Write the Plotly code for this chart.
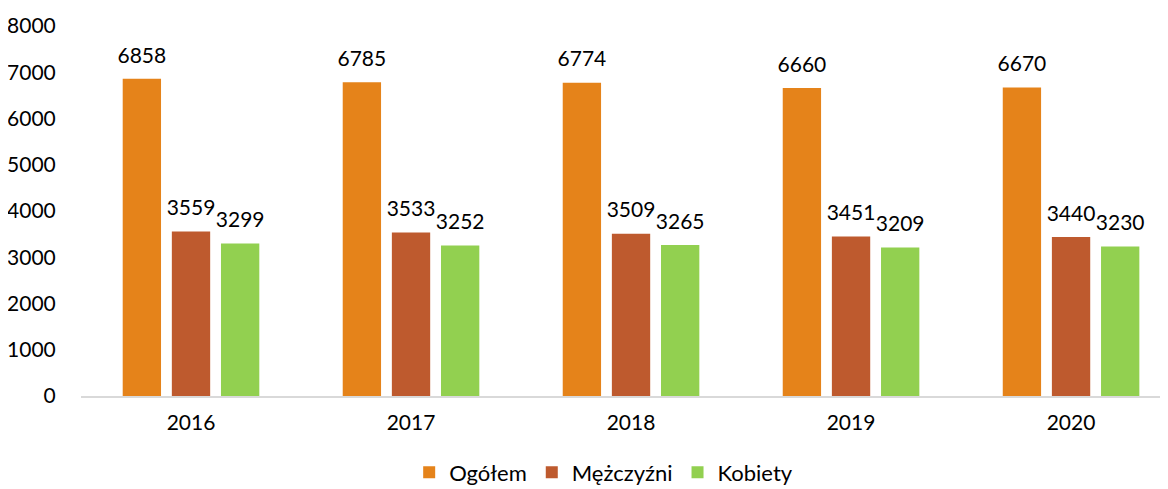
import plotly.graph_objects as go

years = ["2016", "2017", "2018", "2019", "2020"]
ogolem = [6858, 6785, 6774, 6660, 6670]
mezczyzni = [3559, 3533, 3509, 3451, 3440]
kobiety = [3299, 3252, 3265, 3209, 3230]

series = [
    ("Ogółem", ogolem, "#E5831A"),
    ("Mężczyźni", mezczyzni, "#BE5A2E"),
    ("Kobiety", kobiety, "#92D050"),
]

FONT = "Lato, 'Open Sans', sans-serif"

fig = go.Figure()
for i, (name, vals, color) in enumerate(series):
    fig.add_trace(go.Bar(
        x=years, y=vals, name=name, offsetgroup=str(i),
        marker=dict(color=color, line=dict(width=0)),
    ))
for i, (name, vals, color) in enumerate(series):
    fig.add_trace(go.Scatter(
        x=years, y=vals, mode="markers+text", offsetgroup=str(i),
        text=[str(v) for v in vals], textposition="top center",
        marker=dict(size=16, opacity=0), showlegend=False, hoverinfo="skip",
        cliponaxis=False,
        textfont=dict(size=21, color="#000000", family=FONT),
    ))

fig.update_layout(
    width=1168, height=489,
    margin=dict(l=73, r=0, t=18, b=101, autoexpand=False),
    paper_bgcolor="white", plot_bgcolor="white",
    barmode="group", bargap=0.33, bargroupgap=0.22,
    scattermode="group", scattergap=0.33,
    font=dict(family=FONT, size=21, color="#000000"),
    showlegend=True,
    legend=dict(orientation="h", xref="container", yref="container",
                x=0.51, xanchor="center", y=0.05, yanchor="middle",
                font=dict(size=22, color="#000000", family=FONT), traceorder="normal"),
    xaxis=dict(range=[-0.5, 4.477], showgrid=False, showline=True, linecolor="#D9D9D9",
               linewidth=2, ticks="outside", ticklen=7, tickcolor="rgba(0,0,0,0)",
               tickfont=dict(size=21), zeroline=False, automargin=False),
    yaxis=dict(range=[0, 8000], dtick=1000, showgrid=False, showline=False, zeroline=False,
               ticks="outside", ticklen=20, tickcolor="rgba(0,0,0,0)", tickfont=dict(size=21),
               automargin=False),
)

fig.write_html("out.html")
